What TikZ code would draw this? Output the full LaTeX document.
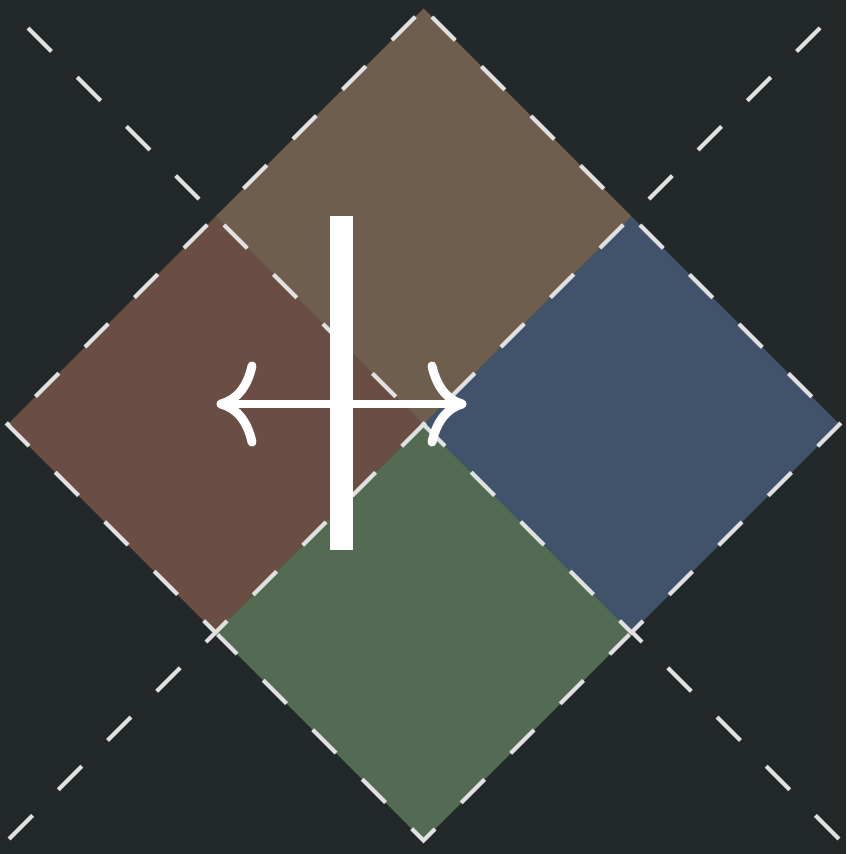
\documentclass[tikz,border=0pt]{standalone}
\definecolor{bg}{RGB}{35,40,41}
\definecolor{sqT}{RGB}{111,94,77}
\definecolor{sqL}{RGB}{106,77,67}
\definecolor{sqR}{RGB}{65,83,106}
\definecolor{sqB}{RGB}{82,107,82}
\definecolor{dashc}{RGB}{225,225,225}
\tikzset{
  guide/.style={draw=dashc, line width=4pt, dash pattern=on 33.2pt off 36.4pt},
  sqbox/.style={draw=dashc, line width=4pt, dash pattern=on 33pt off 37pt, dash phase=58pt},
  symb/.style={draw=white, line width=9pt, line cap=round, line join=round}
}
\begin{document}
\begin{tikzpicture}[x=1pt,y=-1pt]
\fill[bg] (0,0) rectangle (846,854);
\useasboundingbox (0,0) rectangle (846,854);
% diagonals
\coordinate (g1a) at (28,28);
\coordinate (g1b) at (854,854);
\coordinate (g2a) at (820,28);
\coordinate (g2b) at (-6,854);
\draw[guide] (g1a) -- (g1b);
\draw[guide] (g2a) -- (g2b);
% square corners (each path starts at the top vertex)
\coordinate (T1) at (423.5,8.5);   \coordinate (T2) at (631.5,216.5); \coordinate (T3) at (423.5,424.5); \coordinate (T4) at (215.5,216.5);
\coordinate (L1) at (215.5,216.5); \coordinate (L2) at (423.5,424.5); \coordinate (L3) at (215.5,632.5); \coordinate (L4) at (7.5,424.5);
\coordinate (R1) at (631.5,216.5); \coordinate (R2) at (839.5,424.5); \coordinate (R3) at (631.5,632.5); \coordinate (R4) at (423.5,424.5);
\coordinate (B1) at (423.5,424.5); \coordinate (B2) at (631.5,632.5); \coordinate (B3) at (423.5,840.5); \coordinate (B4) at (215.5,632.5);
% fills
\fill[sqT] (T1) -- (T2) -- (T3) -- (T4) -- cycle;
\fill[sqB] (B1) -- (B2) -- (B3) -- (B4) -- cycle;
\fill[sqL] (L1) -- (L2) -- (L3) -- (L4) -- cycle;
\fill[sqR] (R1) -- (R2) -- (R3) -- (R4) -- cycle;
% outlines: top and bottom ones are hidden where left and right squares lie over them
\begin{scope}
  \clip (-100,-103) -- (423.5,420.5) -- (947,-103) -- cycle;
  \draw[sqbox] (T1) -- (T2) -- (T3) -- (T4) -- cycle;
\end{scope}
\begin{scope}
  \clip (423.5,428.5) -- (1000,1005) -- (-153,1005) -- cycle;
  \draw[sqbox] (B1) -- (B2) -- (B3) -- (B4) -- cycle;
\end{scope}
\draw[sqbox] (L1) -- (L2) -- (L3) -- (L4) -- cycle;
\draw[sqbox] (R1) -- (R2) -- (R3) -- (R4) -- cycle;
% symbol
\coordinate (barTop) at (330,216);
\coordinate (barBot) at (353,550);
\fill[white] (barTop) rectangle (barBot);
\coordinate (tipL) at (221,404);
\coordinate (tipR) at (462,404);
\draw[white, line width=8pt] (tipL) -- (tipR);
\draw[symb] (252,366) .. controls (247,388) and (236,400) .. (tipL) .. controls (236,408) and (247,420) .. (252,442);
\draw[symb] (432,366) .. controls (437,388) and (448,400) .. (tipR) .. controls (448,408) and (437,420) .. (432,442);
\end{tikzpicture}
\end{document}
